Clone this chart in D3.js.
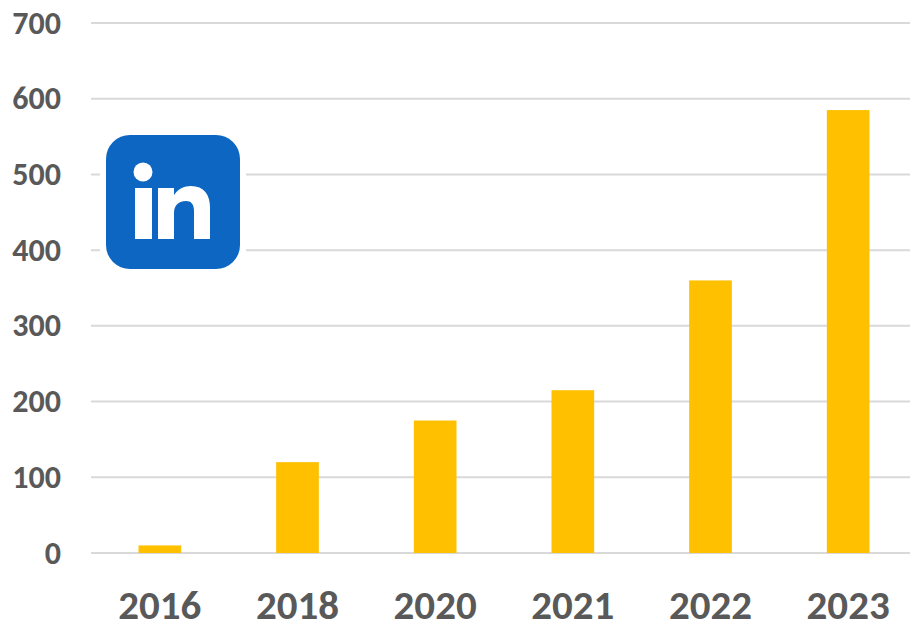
<!DOCTYPE html>
<html>
<head>
<meta charset="utf-8">
<script src="https://cdn.jsdelivr.net/npm/d3@7"></script>
<style>
  html, body { margin: 0; padding: 0; background: #fff; }
  text { font-family: Carlito, Lato, "Open Sans", sans-serif; font-weight: 700; fill: #595959; }
</style>
</head>
<body>
<div id="chart"></div>
<script>
const years = ["2016", "2018", "2020", "2021", "2022", "2023"];
const values = [10, 120, 175, 215, 360, 585];
const yTicks = [0, 100, 200, 300, 400, 500, 600, 700];

const width = 910;
const height = 624;

const svg = d3.select("#chart")
  .append("svg")
  .attr("width", width)
  .attr("height", height)
  .style("display", "block");

const xScale = d3.scaleBand()
  .domain(years)
  .range([91, 917])
  .paddingInner(0.69)
  .paddingOuter(0.345);

const yScale = d3.scaleLinear()
  .domain([0, 700])
  .range([553, 23]);

// gridlines
svg.append("g")
  .selectAll("line")
  .data(yTicks)
  .enter()
  .append("line")
  .attr("x1", 91)
  .attr("x2", 910)
  .attr("y1", d => yScale(d))
  .attr("y2", d => yScale(d))
  .attr("stroke", "#d9d9d9")
  .attr("stroke-width", 2);

// bars
svg.append("g")
  .selectAll("rect")
  .data(values)
  .enter()
  .append("rect")
  .attr("x", (d, i) => xScale(years[i]))
  .attr("y", d => yScale(d))
  .attr("width", xScale.bandwidth())
  .attr("height", d => yScale(0) - yScale(d))
  .attr("fill", "#ffc000");

// y labels
svg.append("g")
  .selectAll("text")
  .data(yTicks)
  .enter()
  .append("text")
  .attr("x", 61)
  .attr("y", d => yScale(d))
  .attr("dy", "0.33em")
  .attr("text-anchor", "end")
  .attr("font-size", "32px")
  .text(d => d);

// x labels
svg.append("g")
  .selectAll("text")
  .data(years)
  .enter()
  .append("text")
  .attr("x", d => xScale(d) + xScale.bandwidth() / 2)
  .attr("y", 619)
  .attr("text-anchor", "middle")
  .attr("font-size", "41px")
  .text(d => d);

// LinkedIn logo, the pasted image has a white box round it that hides the gridlines
svg.append("rect")
  .attr("x", 100)
  .attr("y", 129)
  .attr("width", 146)
  .attr("height", 146)
  .attr("fill", "#fff");
const logo = svg.append("g").attr("transform", "translate(106,135)");
logo.append("rect")
  .attr("width", 134)
  .attr("height", 134)
  .attr("rx", 24)
  .attr("fill", "#0d66c2");
logo.append("circle")
  .attr("cx", 37)
  .attr("cy", 37)
  .attr("r", 9.5)
  .attr("fill", "#fff");
logo.append("rect")
  .attr("x", 29)
  .attr("y", 53)
  .attr("width", 17)
  .attr("height", 51)
  .attr("fill", "#fff");
logo.append("path")
  .attr("d", "M52 53H68V60C72 54 78 51 85 51C98 51 104 60 104 72V104H88V76C88 69 85 66 80 66C73 66 68 70 68 78V104H52Z")
  .attr("fill", "#fff");
</script>
</body>
</html>
